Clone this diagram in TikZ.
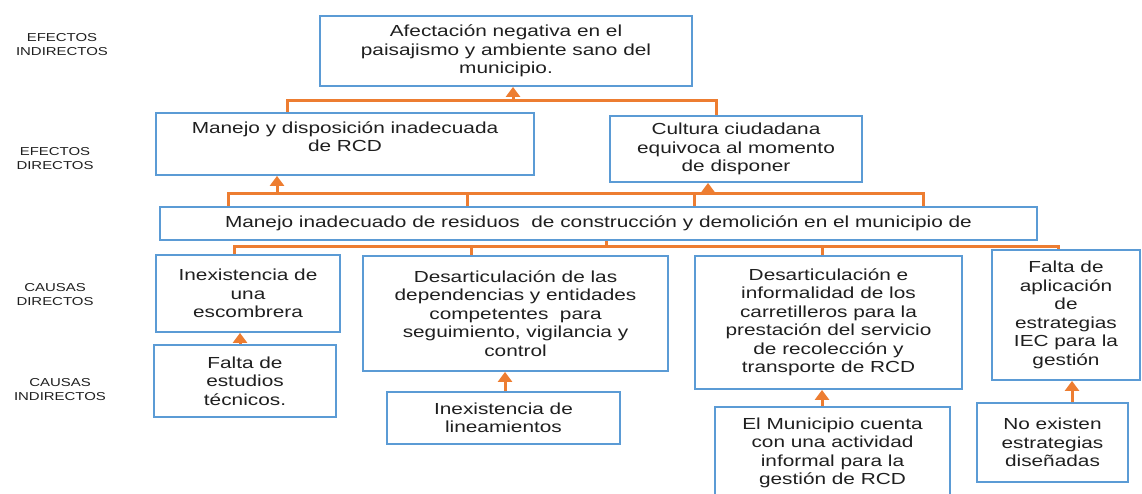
\documentclass[tikz,border=0pt]{standalone}
\usepackage{fontspec}
\setmainfont[FakeStretch=1.3]{Liberation Sans}
\usepackage{xcolor}
\usetikzlibrary{arrows.meta}
\definecolor{boxblue}{HTML}{5B9BD5}
\definecolor{linkorange}{HTML}{ED7D31}
\definecolor{txtgray}{HTML}{1F1F1F}

\begin{document}
\begin{tikzpicture}[x=1pt,y=-1pt,
    box/.style={draw=boxblue,line width=1.8pt,align=center,inner sep=2pt,text=txtgray,
      font=\fontsize{16}{18.5}\selectfont},
    level/.style={align=center,text=txtgray,font=\fontsize{11.5}{14}\selectfont},
    link/.style={draw=linkorange,line width=3pt},
    arr/.style={link,-{Triangle[width=14pt,length=10pt]}}]
    \useasboundingbox (0,0) rectangle (1142,494);

    \node[level] (efi) at (62,45) {EFECTOS\\INDIRECTOS};
    \node[level] (efd) at (55,159) {EFECTOS\\DIRECTOS};
    \node[level] (cad) at (55,295) {CAUSAS\\DIRECTOS};
    \node[level] (cai) at (60,390) {CAUSAS\\INDIRECTOS};

    \node[box,minimum width=372pt,minimum height=70pt] (ae) at (506,51)
      {Afectación negativa en el\\paisajismo y ambiente sano del\\municipio.};
    \node[box,minimum width=378pt,minimum height=62pt,text depth=15pt] (md) at (345,144)
      {Manejo y disposición inadecuada\\de RCD};
    \node[box,minimum width=252pt,minimum height=66pt] (cc) at (736,149)
      {Cultura ciudadana\\equivoca al momento\\de disponer};
    \node[box,minimum width=877pt,minimum height=33pt] (mi) at (598.5,223.5)
      {Manejo inadecuado de residuos\ \ de construcción y demolición en el municipio de};
    \node[box,minimum width=184pt,minimum height=77pt] (ie) at (248,293.5)
      {Inexistencia de\\una\\escombrera};
    \node[box,minimum width=182pt,minimum height=72pt] (fe) at (245,381)
      {Falta de\\estudios\\técnicos.};
    \node[box,minimum width=305pt,minimum height=115pt] (de) at (515.5,313.5)
      {Desarticulación de las\\dependencias y entidades\\competentes\ \ para\\seguimiento, vigilancia y\\control};
    \node[box,minimum width=233pt,minimum height=52pt] (li) at (503.5,418)
      {Inexistencia de\\lineamientos};
    \node[box,minimum width=267pt,minimum height=133pt] (di) at (828.5,322.5)
      {Desarticulación e\\informalidad de los\\carretilleros para la\\prestación del servicio\\de recolección y\\transporte de RCD};
    \node[box,minimum width=235pt,minimum height=92pt] (em) at (832.5,453)
      {El Municipio cuenta\\con una actividad\\informal para la\\gestión de RCD};
    \node[box,minimum width=148pt,minimum height=130pt] (fa) at (1066,315)
      {Falta de\\aplicación\\de\\estrategias\\IEC para la\\gestión};
    \node[box,minimum width=151pt,minimum height=79pt] (ne) at (1052.5,442.5)
      {No existen\\estrategias\\diseñadas};

    \coordinate (ta) at (287,101);
    \coordinate (tb) at (513,101);
    \coordinate (tc) at (716,101);
    \draw[link] (ta |- md.north) -- (ta) -- (tc) -- (tc |- cc.north);
    \draw[arr] (tb) -- (tb |- ae.south);

    \coordinate (m1) at (228,194);
    \coordinate (m2) at (277,194);
    \coordinate (m3) at (467,194);
    \coordinate (m4) at (694,194);
    \coordinate (m5) at (708,194);
    \coordinate (m6) at (923,194);
    \draw[link] (m1 |- mi.north) -- (m1) -- (m6) -- (m6 |- mi.north);
    \foreach \c in {m3,m4}
      \draw[link] (\c) -- (\c |- mi.north);
    \draw[arr] (m2) -- (m2 |- md.south);
    \draw[arr] (m5) -- (m5 |- cc.south);

    \coordinate (b0) at (606,247);
    \coordinate (b1) at (234,247);
    \coordinate (b2) at (471,247);
    \coordinate (b3) at (822,247);
    \coordinate (b4) at (1058,247);
    \draw[link] (b0 |- mi.south) -- (b0);
    \draw[link] (b1 |- ie.north) -- (b1) -- (b4) -- (b4 |- fa.north);
    \foreach \c/\n in {b2/de,b3/di}
      \draw[link] (\c) -- (\c |- \n.north);

    \foreach \s/\t/\dx in {fe/ie/-5,li/de/1.5,em/di/-10.5,ne/fa/19.5} {
      \coordinate (u) at ([xshift=\dx pt]\s.north);
      \draw[arr] (u) -- (u |- \t.south);
    }
\end{tikzpicture}
\end{document}
